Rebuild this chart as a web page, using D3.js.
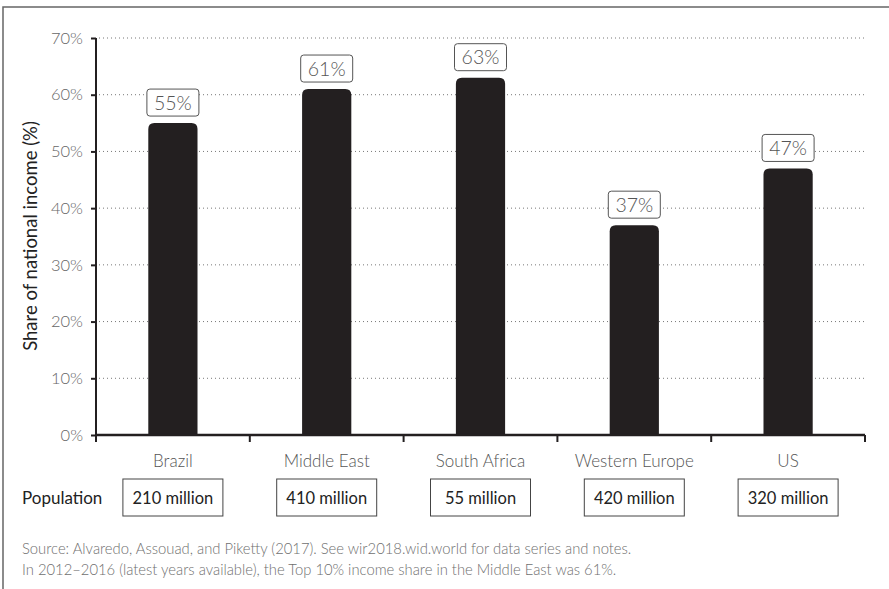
<!DOCTYPE html>
<html><head><meta charset="utf-8">
<script src="https://cdn.jsdelivr.net/npm/d3@7"></script>
<style>body{margin:0;background:#fff;}svg{display:block;font-family:Lato,"Open Sans",sans-serif;}</style>
</head><body><svg id="c" width="889" height="589"></svg>
<script>
const categories = ["Brazil","Middle East","South Africa","Western Europe","US"];
const shares = [55,61,63,37,47];
const populations = ["210 million","410 million","55 million","420 million","320 million"];
const yTicks = [0,10,20,30,40,50,60,70];
const footnotes = ["Source: Alvaredo, Assouad, and Piketty (2017). See wir2018.wid.world for data series and notes.",
 "In 2012–2016 (latest years available), the Top 10% income share in the Middle East was 61%."];

const svg = d3.select("#c");
svg.append("rect").attr("x",3).attr("y",7).attr("width",950).attr("height",650)
  .attr("fill","none").attr("stroke","#666").attr("stroke-width",1.5);

const L=96,R=865,T=38,B=435;
const x = d3.scaleBand().domain(categories).range([L,R]).paddingInner(0.68).paddingOuter(0.34);
const y = d3.scaleLinear().domain([0,70]).range([B,T]);

// gridlines
svg.append("g").selectAll("line").data(yTicks.filter(d=>d>0)).join("line")
  .attr("x1",L+3).attr("x2",R).attr("y1",d=>y(d)).attr("y2",d=>y(d))
  .attr("stroke","#777").attr("stroke-width",1).attr("stroke-dasharray","1,3");

// bars with rounded top corners
const r=6, bw=x.bandwidth();
svg.append("g").selectAll("path").data(shares).join("path")
  .attr("fill","#231f20")
  .attr("d",(d,i)=>{const x0=x(categories[i]),y0=y(d),y1=y(0);
    return `M${x0},${y1}V${y0+r}Q${x0},${y0} ${x0+r},${y0}H${x0+bw-r}Q${x0+bw},${y0} ${x0+bw},${y0+r}V${y1}Z`;});

// y axis
const ya = svg.append("g").attr("transform",`translate(${L},0)`)
  .call(d3.axisLeft(y).tickValues(yTicks).tickFormat(d=>d+"%").tickSize(5).tickPadding(8));
ya.select(".domain").attr("stroke","#231f20").attr("stroke-width",2).attr("d",`M0,${T}V${B+6}`);
ya.selectAll(".tick line").attr("stroke","#231f20").attr("stroke-width",2);
ya.selectAll(".tick text").attr("font-size",16.5).attr("font-weight",300).attr("fill","#666").attr("font-family","Lato");

// x axis
const xa = svg.append("g").attr("transform",`translate(0,${B})`);
xa.append("line").attr("x1",L).attr("x2",R).attr("stroke","#231f20").attr("stroke-width",2.5);
const step = (R-L)/categories.length;
xa.selectAll("line.t").data(d3.range(categories.length+1)).join("line").attr("class","t")
  .attr("x1",i=>L+i*step).attr("x2",i=>L+i*step).attr("y1",0).attr("y2",7)
  .attr("stroke","#231f20").attr("stroke-width",2);
svg.append("g").selectAll("text").data(categories).join("text")
  .attr("x",d=>x(d)+bw/2).attr("y",467).attr("text-anchor","middle")
  .attr("font-size",17).attr("fill","#555").attr("font-weight",300).text(d=>d);

// value labels
const vl = svg.append("g").selectAll("g").data(shares).join("g")
  .attr("transform",(d,i)=>`translate(${x(categories[i])+bw/2},${y(d)-7})`);
vl.append("rect").attr("x",-26).attr("y",-27).attr("width",52).attr("height",27).attr("rx",3)
  .attr("fill","#fff").attr("stroke","#555").attr("stroke-width",1);
vl.append("text").attr("y",-6.5).attr("text-anchor","middle").attr("font-size",19.5)
  .attr("font-weight",300).attr("fill","#555").text(d=>d+"%");

// y title
svg.append("text").attr("transform","translate(37,236) rotate(-90)").attr("text-anchor","middle")
  .attr("font-size",18.5).attr("fill","#222").text("Share of national income (%)");

// population
svg.append("text").attr("x",22).attr("y",504).attr("font-size",17).attr("fill","#222").text("Population");
const pg = svg.append("g").selectAll("g").data(populations).join("g")
  .attr("transform",(d,i)=>`translate(${x(categories[i])+bw/2},479)`);
pg.append("rect").attr("x",-50).attr("width",100).attr("height",37).attr("fill","#fff")
  .attr("stroke","#444").attr("stroke-width",1);
pg.append("text").attr("y",24.5).attr("text-anchor","middle").attr("font-size",16.5).attr("fill","#222").text(d=>d);

// footnotes
svg.append("g").selectAll("text").data(footnotes).join("text")
  .attr("x",22).attr("y",(d,i)=>554+i*21).attr("font-size",14.8).attr("font-weight",300).attr("fill","#6f6f6f").text(d=>d);
</script></body></html>
